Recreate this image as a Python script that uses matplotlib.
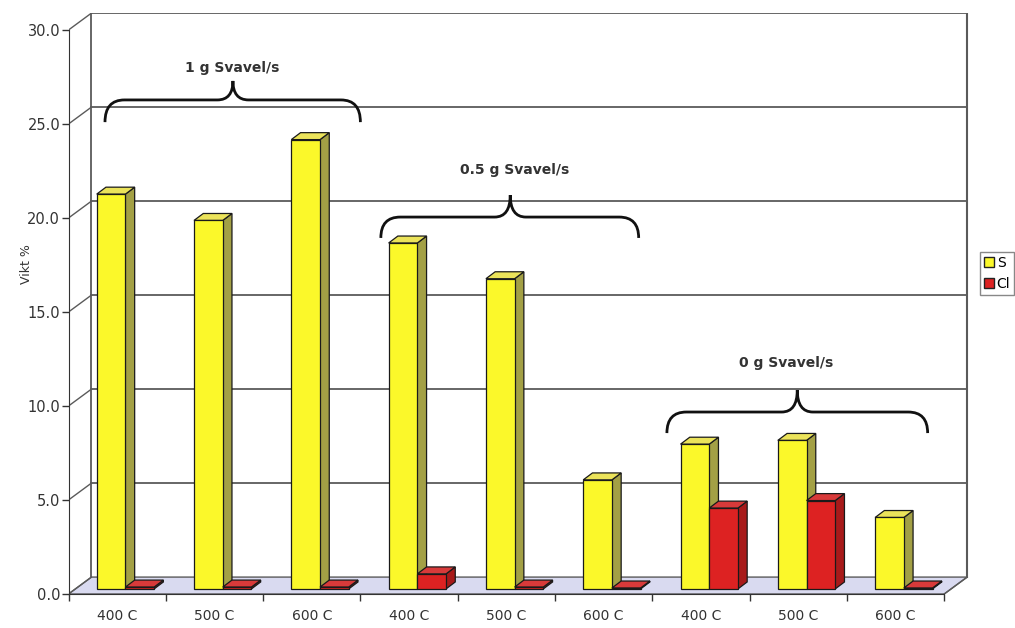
import matplotlib.pyplot as plt
import numpy as np
from matplotlib.patches import Polygon, Patch
from matplotlib.path import Path
from matplotlib.patches import PathPatch

temps = ['400 C', '500 C', '600 C'] * 3
s_vals = [21.0, 19.6, 23.9, 18.4, 16.5, 5.8, 7.7, 7.9, 3.8]
cl_vals = [0.1, 0.1, 0.1, 0.8, 0.1, 0.05, 4.3, 4.7, 0.05]
groups = ['1 g Svavel/s', '0.5 g Svavel/s', '0 g Svavel/s']
yticks = [0, 5, 10, 15, 20, 25, 30]

# 3d look: wall offset and bar depth (data units)
DX, DY = 0.236, 0.9
BDX, BDY = 0.095, 0.37
BASE = 0.27
W = 0.295

fig = plt.figure(figsize=(10.15, 6.28), dpi=100)
fw, fh = 1015, 628
ax = fig.add_axes([68.5 / fw, 34 / fh, 900 / fw, 581 / fh])
ax.set_xlim(0, 900 / 97.3)
ax.set_ylim(0, 581 / 18.8)

grid_c = '#5a5a5a'
# floor
ax.add_patch(Polygon([(0, 0), (9, 0), (9 + DX, DY), (DX, DY)], closed=True,
                     facecolor='#d9daf0', edgecolor=grid_c, lw=1.0, zorder=1))
# back wall
for v in yticks[1:]:
    ax.plot([DX, 9 + DX], [v + DY, v + DY], color=grid_c, lw=1.3, zorder=1)
for v in yticks:
    ax.plot([0, DX], [v, v + DY], color=grid_c, lw=1.0, zorder=1)
ax.plot([DX, DX], [DY, 30 + DY], color=grid_c, lw=1.3, zorder=1)
ax.plot([9 + DX, 9 + DX], [DY, 30 + DY], color=grid_c, lw=1.5, zorder=1)
ax.plot([9, 9 + DX], [0, DY], color=grid_c, lw=1.0, zorder=1)

x = np.arange(9)


def bar3d(xs, vals, front, side, top, z0):
    bars = ax.bar(xs, vals, width=W, bottom=BASE, align='edge', color=front,
                  edgecolor='#1a1a1a', lw=0.9)
    for k, b in enumerate(bars):
        x0, y0 = b.get_x(), b.get_y()
        x1, y1 = x0 + b.get_width(), y0 + b.get_height()
        z = z0 + 3 * k
        b.set_zorder(z + 0.2)
        ax.add_patch(Polygon([(x1, y0), (x1 + BDX, y0 + BDY), (x1 + BDX, y1 + BDY), (x1, y1)],
                             closed=True, facecolor=side, edgecolor='#1a1a1a', lw=0.9, zorder=z))
        ax.add_patch(Polygon([(x0, y1), (x0 + BDX, y1 + BDY), (x1 + BDX, y1 + BDY), (x1, y1)],
                             closed=True, facecolor=top, edgecolor='#1a1a1a', lw=0.9, zorder=z + 0.1))
    return bars


bar3d(x + 0.29, s_vals, '#fbf82a', '#a3a045', '#ebe35a', 3)
bar3d(x + 0.29 + W, cl_vals, '#dd2222', '#a81a1a', '#d83a3a', 4)


def brace(x0, xm, x1, yline, ytip, yend, r=0.2, r2=0.16):
    verts = [(x0, yend), (x0, yline), (x0 + r, yline),
             (xm - r2, yline), (xm, yline), (xm, ytip),
             (xm, yline), (xm + r2, yline),
             (x1 - r, yline), (x1, yline), (x1, yend)]
    codes = [Path.MOVETO, Path.CURVE3, Path.CURVE3,
             Path.LINETO, Path.CURVE3, Path.CURVE3,
             Path.CURVE3, Path.CURVE3,
             Path.LINETO, Path.CURVE3, Path.CURVE3]
    ax.add_patch(PathPatch(Path(verts, codes), facecolor='none', edgecolor='#111111',
                           lw=2.0, zorder=60))


brace(0.375, 1.69, 3.0, 26.28, 27.29, 25.1)
brace(3.21, 4.54, 5.86, 20.05, 21.22, 18.94)
brace(6.15, 7.49, 8.83, 9.68, 10.85, 8.56)
ax.text(1.68, 27.98, groups[0], ha='center', va='center', fontsize=10,
        fontweight='bold', color='#333333')
ax.text(4.59, 22.55, groups[1], ha='center', va='center', fontsize=10,
        fontweight='bold', color='#333333')
ax.text(7.38, 12.29, groups[2], ha='center', va='center', fontsize=10,
        fontweight='bold', color='#333333')

# axes
for s in ['top', 'right']:
    ax.spines[s].set_visible(False)
ax.spines['left'].set_bounds(0, 30)
ax.spines['bottom'].set_bounds(0, 9)
ax.spines['left'].set_color('#333333')
ax.spines['bottom'].set_color('#333333')
ax.set_yticks(yticks)
ax.set_yticklabels(['%.1f' % v for v in yticks])
ax.tick_params(axis='y', length=5, width=1, pad=1, labelsize=10.5,
               colors='#333333')
ax.set_xticks(np.arange(10))
ax.set_xticklabels([])
ax.set_xticks(x + 0.5, minor=True)
ax.set_xticklabels(temps, minor=True)
ax.tick_params(axis='x', which='major', length=5, width=1, colors='#333333')
ax.tick_params(axis='x', which='minor', length=0, pad=11, labelsize=10,
               colors='#333333')
ax.set_ylabel('Vikt %', fontsize=9, color='#333333')
ax.yaxis.set_label_coords(-0.039, 0.568)

ax.legend(handles=[Patch(facecolor='#fbf82a', edgecolor='#222222', label='S'),
                   Patch(facecolor='#dd2222', edgecolor='#222222', label='Cl')],
          loc='upper left', bbox_to_anchor=(980 / fw, 1 - 252 / fh),
          bbox_transform=fig.transFigure, fontsize=10, handlelength=0.7,
          handleheight=0.7, handletextpad=0.2, borderpad=0.3, borderaxespad=0,
          labelspacing=0.5, fancybox=False, edgecolor='#888888', framealpha=1)

fig.savefig('out.png', dpi=100)
